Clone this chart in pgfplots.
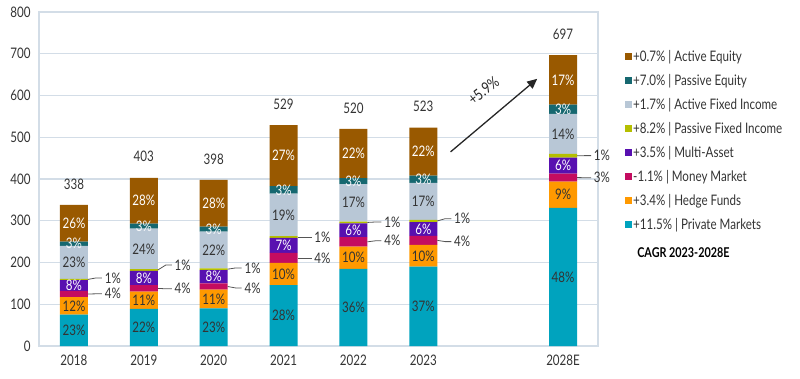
\documentclass[border=0pt]{standalone}
\usepackage{fontspec}
\setmainfont{Lato}[FakeStretch=0.8]
\usepackage{pgfplots}
\pgfplotsset{compat=1.18}
\usepackage{pgfplotstable}
\usetikzlibrary{arrows.meta}

\definecolor{cAE}{HTML}{995900}
\definecolor{cPE}{HTML}{166870}
\definecolor{cAFI}{HTML}{B8C7D6}
\definecolor{cPFI}{HTML}{B5BF00}
\definecolor{cMA}{HTML}{5810B0}
\definecolor{cMM}{HTML}{C40C60}
\definecolor{cHF}{HTML}{FF9900}
\definecolor{cPM}{HTML}{00A3BE}
\definecolor{gridc}{HTML}{D3DDE7}
\definecolor{txt}{HTML}{333333}
\definecolor{lead}{HTML}{555555}

\pgfplotstableread{
x PM HF MM MA PFI AFI PE AE
0 75 42 15 26 3 79 10 88
1 89 41 16 34 4 97 12 110
2 90 45 15 32 4 88 12 112
3 146 53 24 36 4 102 18 146
4 185 53 23 33 4 90 14 118
5 190 52 22 33 5 89 17 115
7 331 63 19 38 9 96 22 119
}\data

\newcommand\f{\fontsize{14.5bp}{17bp}\selectfont}
\newcommand\lab[4]{\node[font=\f, text=#4, inner sep=0pt] at (axis cs:#1,#2) {#3\%};}
\newcommand\out[4]{\draw[lead, line width=0.8bp] ([xshift=14bp]axis cs:#1,#2) -- ([xshift=22bp]axis cs:#1,#3) -- ([xshift=28bp]axis cs:#1,#3) node[right, inner sep=2.5bp, font=\f, text=txt] {#4\%};}
\newcommand\tot[2]{\node[font=\f, text=txt] at ([yshift=21bp]axis cs:#1,#2) {#2};}

\pgfplotsset{base/.style={at={(0,0)}, anchor=south west,
  scale only axis, width=559bp, height=334bp,
  xmin=-0.5, xmax=7.5, ymin=0, ymax=800, clip=false}}

\begin{document}
\begin{tikzpicture}
\path[use as bounding box] (-39bp,-33bp) rectangle (761bp,346bp);
\begin{axis}[
  base,
  ybar stacked, bar width=28bp,
  xtick={0,1,2,3,4,5,7},
  xticklabels={2018,2019,2020,2021,2022,2023,2028E},
  ytick={0,100,...,800},
  major tick length=0pt,
  ymajorgrids, grid style={gridc, line width=1.2bp},
  axis line style={gridc, line width=1.2bp},
  tick label style={font=\f, text=txt},
  /pgf/number format/assume math mode=true,
  yticklabel style={xshift=-5bp},
  xticklabel style={yshift=-5bp},
  reverse legend,
  legend style={at={(rel axis cs:1.043,0.895)}, anchor=north west, draw=none, fill=none, font=\f, text=txt, row sep=9.4bp, nodes={inner sep=1bp}},
  legend cell align=left,
  legend image code/.code={\fill[#1] (0bp,-3.5bp) rectangle (7bp,3.5bp);},
]
\addplot[fill=cPM, draw=none] table[x=x,y=PM]{\data};
\addlegendentry{+11.5\% | Private Markets}
\addplot[fill=cHF, draw=none] table[x=x,y=HF]{\data};
\addlegendentry{+3.4\% | Hedge Funds}
\addplot[fill=cMM, draw=none] table[x=x,y=MM]{\data};
\addlegendentry{-1.1\% | Money Market}
\addplot[fill=cMA, draw=none] table[x=x,y=MA]{\data};
\addlegendentry{+3.5\% | Multi-Asset}
\addplot[fill=cPFI, draw=none] table[x=x,y=PFI]{\data};
\addlegendentry{+8.2\% | Passive Fixed Income}
\addplot[fill=cAFI, draw=none] table[x=x,y=AFI]{\data};
\addlegendentry{+1.7\% | Active Fixed Income}
\addplot[fill=cPE, draw=none] table[x=x,y=PE]{\data};
\addlegendentry{+7.0\% | Passive Equity}
\addplot[fill=cAE, draw=none] table[x=x,y=AE]{\data};
\addlegendentry{+0.7\% | Active Equity}
\end{axis}
\begin{axis}[base, hide axis]
% 2018
\lab{0}{37.5}{23}{txt}\lab{0}{96}{12}{txt}\lab{0}{145}{8}{white}\lab{0}{200.5}{23}{txt}\lab{0}{245}{3}{white!90!cAFI}\lab{0}{294}{26}{white}
\out{0}{159.5}{163}{1}\out{0}{124.5}{125}{4}
% 2019
\lab{1}{44.5}{22}{txt}\lab{1}{109.5}{11}{txt}\lab{1}{163}{8}{white}\lab{1}{232.5}{24}{txt}\lab{1}{287}{3}{white!90!cAFI}\lab{1}{348}{28}{white}
\out{1}{182}{194}{1}\out{1}{138}{137}{4}
% 2020
\lab{2}{45}{23}{txt}\lab{2}{112.5}{11}{txt}\lab{2}{166}{8}{white}\lab{2}{230}{22}{txt}\lab{2}{280}{3}{white!90!cAFI}\lab{2}{342}{28}{white}
\out{2}{184}{187}{1}\out{2}{142.5}{139}{4}
% 2021
\lab{3}{73}{28}{txt}\lab{3}{172.5}{10}{txt}\lab{3}{241}{7}{white}\lab{3}{314}{19}{txt}\lab{3}{374}{3}{white!90!cAFI}\lab{3}{456}{27}{white}
\out{3}{261}{261}{1}\out{3}{211}{211}{4}
% 2022
\lab{4}{92.5}{36}{txt}\lab{4}{211.5}{10}{txt}\lab{4}{277.5}{6}{white}\lab{4}{343}{17}{txt}\lab{4}{395}{3}{white!90!cAFI}\lab{4}{461}{22}{white}
\out{4}{296}{297}{1}\out{4}{249.5}{252}{4}
% 2023
\lab{5}{95}{37}{txt}\lab{5}{216}{10}{txt}\lab{5}{280.5}{6}{white}\lab{5}{346.5}{17}{txt}\lab{5}{399.5}{3}{white!90!cAFI}\lab{5}{465.5}{22}{white}
\out{5}{299.5}{305}{1}\out{5}{253}{250}{4}
% 2028E
\lab{7}{165.5}{48}{txt}\lab{7}{362.5}{9}{txt}\lab{7}{432}{6}{white}\lab{7}{508}{14}{txt}\lab{7}{567}{3}{white!90!cAFI}\lab{7}{637.5}{17}{white}
\out{7}{455.5}{456}{1}\out{7}{403.5}{403}{3}
% totals
\tot{0}{338}\tot{1}{403}\tot{2}{398}\tot{3}{529}\tot{4}{520}\tot{5}{523}\tot{7}{697}
% arrow
\draw[-{Triangle[length=10bp,width=9bp]}, line width=1.3bp, black!85] (axis cs:5.39,465) -- (axis cs:6.63,640);
\node[rotate=38, font=\fontsize{15.5bp}{17bp}\selectfont, text=black!85] at (axis cs:5.86,612) {+5.9\%};
\node[anchor=west, font=\bfseries\fontsize{13.5bp}{15bp}\selectfont, inner sep=0pt] at (rel axis cs:1.07,0.279) {CAGR 2023-2028E};
\end{axis}
\end{tikzpicture}
\end{document}
